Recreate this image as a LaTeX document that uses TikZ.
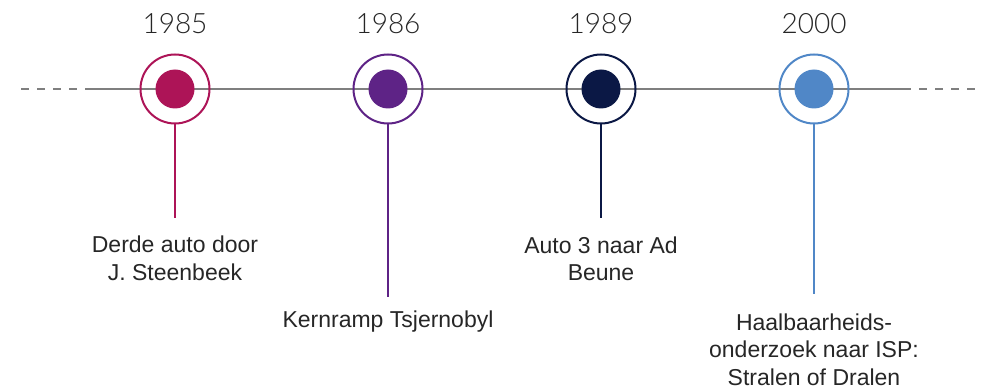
\documentclass[tikz,border=0pt]{standalone}
\usepackage{fontspec}
\setmainfont{Liberation Sans}
\newfontfamily\yearfont{Lato Light}
\usetikzlibrary{positioning}
\definecolor{c85}{HTML}{AD1457}
\definecolor{c86}{HTML}{5E2386}
\definecolor{c89}{HTML}{0B1845}
\definecolor{c00}{HTML}{5087C7}
\definecolor{axisgray}{HTML}{7F7F7F}
\definecolor{ink}{HTML}{262626}

\begin{document}
\begin{tikzpicture}[x=1pt, y=-1pt,
  ring/.style = {draw, circle, line width=2pt, minimum size=69pt, inner sep=0pt},
  dot/.style = {fill, circle, minimum size=39pt, inner sep=0pt},
  year/.style = {font=\yearfont\fontsize{28}{28}\selectfont, text=ink, inner sep=0pt},
  event/.style = {font=\fontsize{23}{27.5}\selectfont, text=ink, align=center, inner sep=0pt},
  stem/.style = {line width=2pt},
  axisline/.style = {draw=axisgray, line width=2pt}]
\useasboundingbox (0,0) rectangle (987,390);
% time axis
\coordinate (l0) at (21,89);
\coordinate (l1) at (86,89);
\coordinate (r0) at (903,89);
\coordinate (r1) at (976,89);
\draw[axisline, dash pattern=on 8pt off 8pt] (l0) -- (l1);
\draw[axisline] (l1) -- (r0);
\draw[axisline, dash pattern=on 8pt off 8pt] (r0) -- (r1);
% 1985
\node[ring, c85] (r1985) at (175,89) {};
\node[dot, c85] (d1985) at (r1985) {};
\node[year] (y1985) [above=20pt of r1985] {1985};
\coordinate (s1985) at (175,218);
\draw[stem, c85] (r1985) -- (s1985);
\node[event] (e1985) [below=18pt of s1985] {Derde auto door\\J. Steenbeek};
% 1986
\node[ring, c86] (r1986) at (388,89) {};
\node[dot, c86] (d1986) at (r1986) {};
\node[year] (y1986) [above=20pt of r1986] {1986};
\coordinate (s1986) at (388,297);
\draw[stem, c86] (r1986) -- (s1986);
\node[event] (e1986) [below=13.5pt of s1986] {Kernramp Tsjernobyl};
% 1989
\node[ring, c89] (r1989) at (601,89) {};
\node[dot, c89] (d1989) at (r1989) {};
\node[year] (y1989) [above=20pt of r1989] {1989};
\coordinate (s1989) at (601,218);
\draw[stem, c89] (r1989) -- (s1989);
\node[event] (e1989) [below=18.5pt of s1989] {Auto 3 naar Ad\\Beune};
% 2000
\node[ring, c00] (r2000) at (814,89) {};
\node[dot, c00] (d2000) at (r2000) {};
\node[year] (y2000) [above=20pt of r2000] {2000};
\coordinate (s2000) at (814,294);
\draw[stem, c00] (r2000) -- (s2000);
\node[event] (e2000) [below=19.5pt of s2000] {Haalbaarheids-\\onderzoek naar ISP:\\Stralen of Dralen};
\end{tikzpicture}
\end{document}
